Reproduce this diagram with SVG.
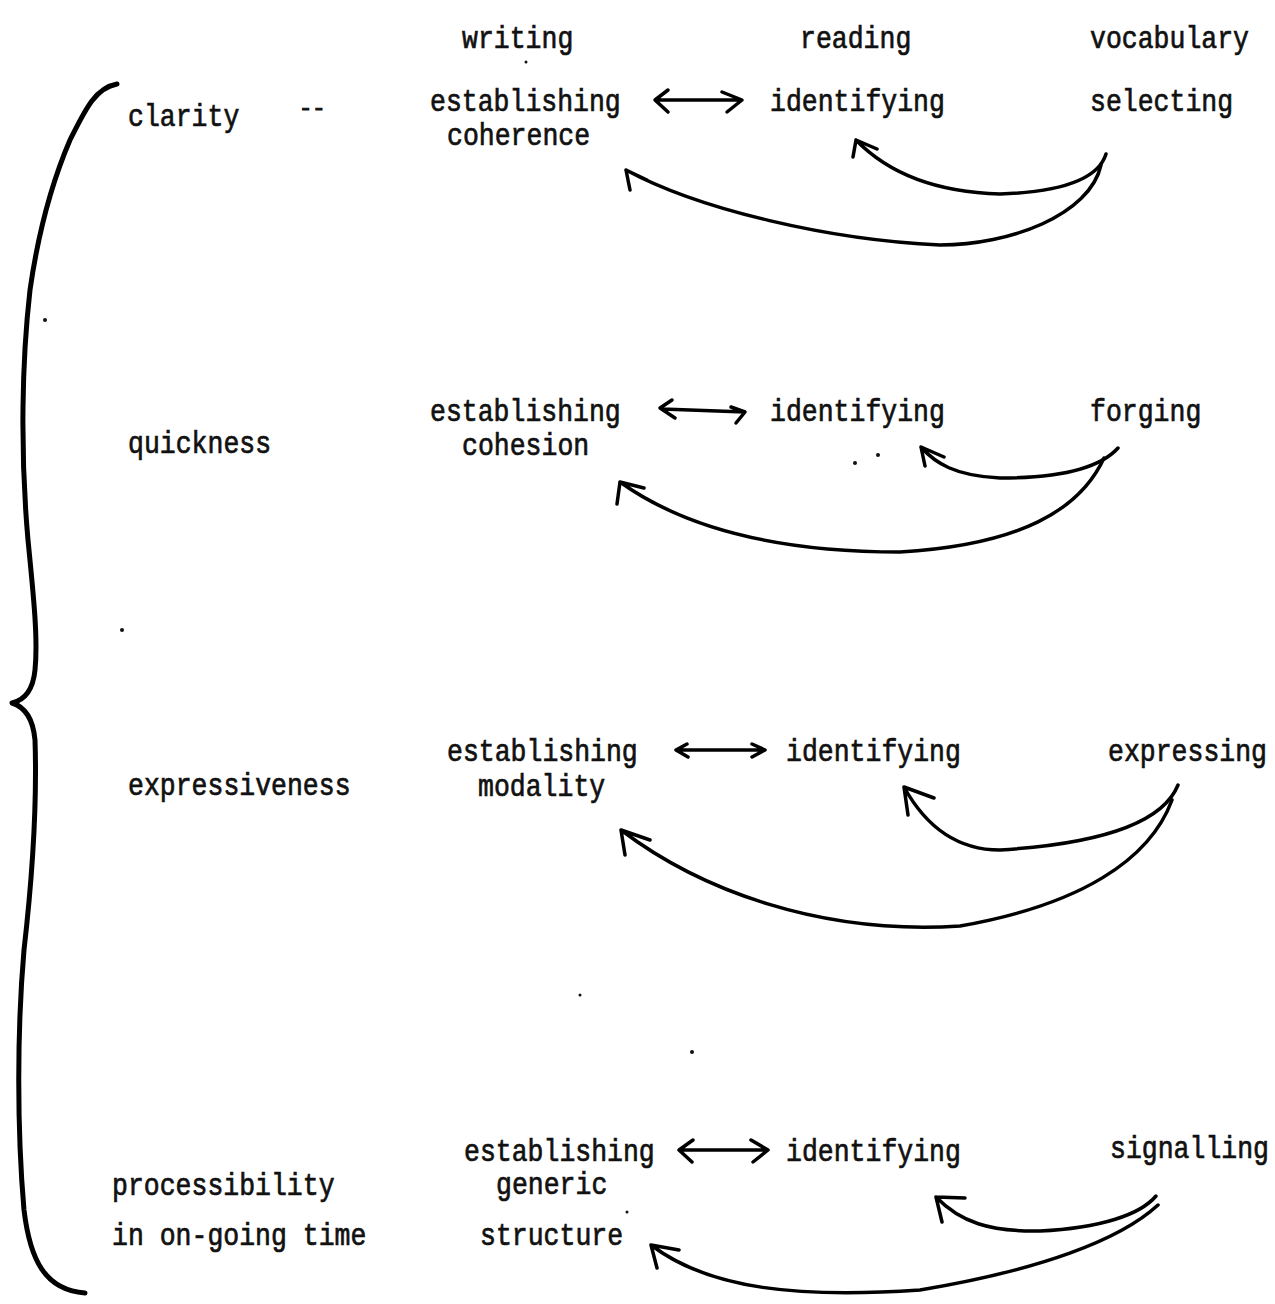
<svg xmlns="http://www.w3.org/2000/svg" width="1275" height="1304" viewBox="0 0 1275 1304">
<style>
  text { font-family: "Liberation Mono", "DejaVu Sans Mono", monospace; font-size: 26.5px; fill: #111; stroke: #111; stroke-width: 0.6px; }
  .c { fill: none; stroke: #000; stroke-width: 3.5; stroke-linecap: round; stroke-linejoin: round; }
  .brace { fill: none; stroke: #000; stroke-width: 5; stroke-linecap: round; stroke-linejoin: round; }
  .dot { fill: #111; }
</style>
<rect width="1275" height="1304" fill="#fff"/>

<g id="brace">
  <path class="brace" d="M117,84 C95,88 85,110 70,140 C55,175 40,220 30,290 C22,360 20,450 28,540 C34,600 38,640 35,670 C33,690 25,700 12,703 C25,707 33,718 35,740 C37,800 32,880 24,950 C17,1030 17,1130 24,1210 C30,1260 45,1290 85,1293"/>
</g>

<g id="headers">
  <text transform="translate(462,48) scale(1,1.15)">writing</text>
  <text transform="translate(800,48) scale(1,1.15)">reading</text>
  <text transform="translate(1090,48) scale(1,1.15)">vocabulary</text>
</g>

<g id="row-clarity">
  <text transform="translate(128,126) scale(1,1.15)">clarity</text>
  <text transform="translate(299,115)" style="font-size:22px;stroke-width:1.2px">--</text>
  <g id="n-coherence">
    <text transform="translate(430,111) scale(1,1.15)">establishing</text>
    <text transform="translate(447,145) scale(1,1.15)">coherence</text>
  </g>
  <text id="n-identifying-1" transform="translate(770,111) scale(1,1.15)">identifying</text>
  <text id="n-selecting" transform="translate(1090,111) scale(1,1.15)">selecting</text>
</g>

<g id="row-quickness">
  <text transform="translate(128,453) scale(1,1.15)">quickness</text>
  <g id="n-cohesion">
    <text transform="translate(430,421) scale(1,1.15)">establishing</text>
    <text transform="translate(462,455) scale(1,1.15)">cohesion</text>
  </g>
  <text id="n-identifying-2" transform="translate(770,421) scale(1,1.15)">identifying</text>
  <text id="n-forging" transform="translate(1090,421) scale(1,1.15)">forging</text>
</g>

<g id="row-expressiveness">
  <text transform="translate(128,795) scale(1,1.15)">expressiveness</text>
  <g id="n-modality">
    <text transform="translate(447,761) scale(1,1.15)">establishing</text>
    <text transform="translate(478,796) scale(1,1.15)">modality</text>
  </g>
  <text id="n-identifying-3" transform="translate(786,761) scale(1,1.15)">identifying</text>
  <text id="n-expressing" transform="translate(1108,761) scale(1,1.15)">expressing</text>
</g>

<g id="row-processibility">
  <text transform="translate(112,1195) scale(1,1.15)">processibility</text>
  <text transform="translate(112,1245) scale(1,1.15)">in on-going time</text>
  <g id="n-generic">
    <text transform="translate(464,1161) scale(1,1.15)">establishing</text>
    <text transform="translate(496,1194) scale(1,1.15)">generic</text>
    <text transform="translate(480,1245) scale(1,1.15)">structure</text>
  </g>
  <text id="n-identifying-4" transform="translate(786,1161) scale(1,1.15)">identifying</text>
  <text id="n-signalling" transform="translate(1110,1158) scale(1,1.15)">signalling</text>
</g>

<g id="connectors">
  <!-- row 1 -->
  <path class="c" d="M668,90 L655,100 L668,112 M658,100 L740,100 M722,92 L742,100 L727,112"/>
  <path class="c" d="M1106,154 C1098,180 1060,192 1000,194 C930,192 885,170 856,140 M856,140 L853,157 M856,140 L877,149"/>
  <path class="c" d="M1101,165 C1090,215 1010,245 940,245 C830,240 700,210 626,170 M626,170 L630,190 M626,170 L647,180"/>
  <!-- row 2 -->
  <path class="c" d="M672,400 L660,408 L675,418 M662,409 L745,412 M731,407 L745,412 L736,423"/>
  <path class="c" d="M1118,448 C1100,468 1060,478 1000,478 C955,476 935,463 921,447 M921,447 L925,466 M921,447 L944,457"/>
  <path class="c" d="M1104,458 C1080,510 1020,545 900,552 C770,552 680,525 620,482 M620,482 L617,504 M620,482 L644,488"/>
  <!-- row 3 -->
  <path class="c" d="M687,744 L676,750 L688,757 M678,750 L764,750 M752,744 L765,750 L752,757"/>
  <path class="c" d="M1178,785 C1160,830 1080,845 1000,850 C955,850 925,825 904,787 M904,787 L908,815 M904,787 L934,798"/>
  <path class="c" d="M1172,800 C1150,860 1080,905 960,926 C820,935 700,890 621,830 M621,830 L625,855 M621,830 L650,840"/>
  <!-- row 4 -->
  <path class="c" d="M693,1140 L679,1150 L692,1162 M681,1150 L768,1150 M751,1140 L768,1150 L753,1162"/>
  <path class="c" d="M1156,1196 C1140,1215 1100,1228 1040,1231 C990,1232 960,1222 936,1197 M936,1197 L942,1222 M936,1197 L965,1198"/>
  <path class="c" d="M1158,1205 C1120,1240 1040,1270 920,1290 C800,1298 710,1290 651,1245 M651,1245 L657,1268 M651,1245 L679,1250"/>
</g>

<g id="specks">
  <circle class="dot" cx="526" cy="62" r="1.5"/>
  <circle class="dot" cx="855" cy="463" r="2"/>
  <circle class="dot" cx="878" cy="455" r="2"/>
  <circle class="dot" cx="45" cy="320" r="2"/>
  <circle class="dot" cx="122" cy="630" r="2"/>
  <circle class="dot" cx="692" cy="1052" r="2"/>
  <circle class="dot" cx="580" cy="995" r="1.5"/>
  <circle class="dot" cx="627" cy="1212" r="1.5"/>
</g>
</svg>
